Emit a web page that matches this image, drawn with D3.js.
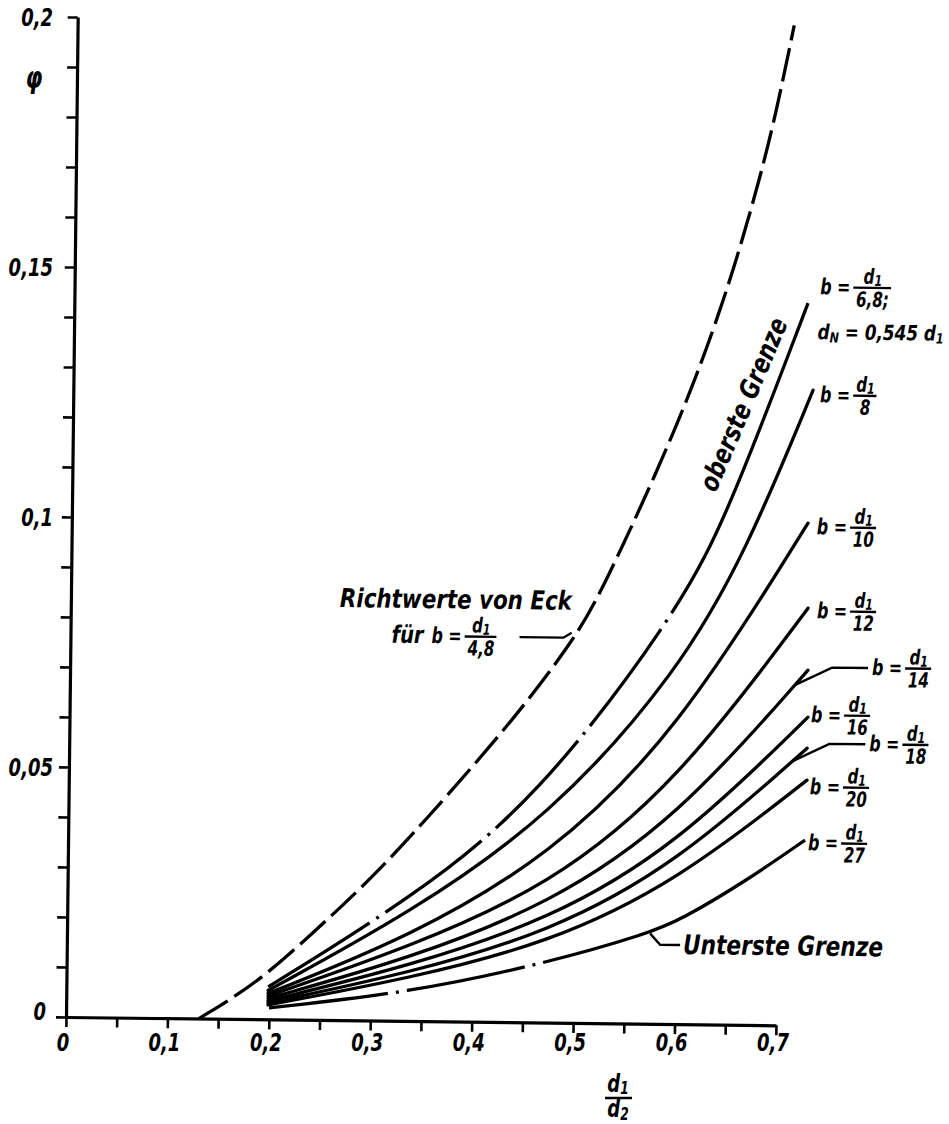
<!DOCTYPE html>
<html>
<head>
<meta charset="utf-8">
<script src="https://cdn.jsdelivr.net/npm/d3@7"></script>
<style>
  body { margin: 0; background: #fff; }
  svg text { font-family: "DejaVu Sans Condensed", "DejaVu Sans", sans-serif; font-style: italic; font-weight: bold; fill: #000; }
</style>
</head>
<body>
<div id="chart"></div>
<script>
// Achsen
const xTicks = [0, 0.05, 0.1, 0.15, 0.2, 0.25, 0.3, 0.35, 0.4, 0.45, 0.5, 0.55, 0.6, 0.65, 0.7];
const xLabelValues = [0, 0.1, 0.2, 0.3, 0.4, 0.5, 0.6, 0.7];
const xTickLabels = ["0", "0,1", "0,2", "0,3", "0,4", "0,5", "0,6", "0,7"];
const yTicks = [0, 0.01, 0.02, 0.03, 0.04, 0.05, 0.06, 0.07, 0.08, 0.09, 0.1,
                0.11, 0.12, 0.13, 0.14, 0.15, 0.16, 0.17, 0.18, 0.19, 0.2];
const yLabelValues = [0, 0.05, 0.1, 0.15, 0.2];
const yTickLabels = ["0", "0,05", "0,1", "0,15", "0,2"];

// Kurven: x = d1/d2, y = phi
const eckX = [0.131, 0.188, 0.2425, 0.295, 0.350, 0.440, 0.4956, 0.5216, 0.598, 0.6414, 0.667, 0.687, 0.7065];
const eckY = [0, 0.0072, 0.0174, 0.0275, 0.0396, 0.061, 0.0765, 0.0855, 0.1202, 0.1453, 0.1636, 0.1797, 0.2];

const b68X = [0.199, 0.338, 0.462, 0.600, 0.647, 0.7233];
const b68Y = [0.0065, 0.0244, 0.0445, 0.083, 0.1023, 0.1445];
const b8X = [0.199, 0.338, 0.475, 0.600, 0.666, 0.7293];
const b8Y = [0.0058, 0.0216, 0.0411, 0.0705, 0.095, 0.1271];
const b10X = [0.199, 0.338, 0.475, 0.600, 0.7258];
const b10Y = [0.0052, 0.0168, 0.0332, 0.0585, 0.1005];
const b12X = [0.199, 0.338, 0.475, 0.600, 0.7268];
const b12Y = [0.0047, 0.0148, 0.0273, 0.0482, 0.0835];
const b14X = [0.199, 0.338, 0.475, 0.600, 0.7275];
const b14Y = [0.0042, 0.0125, 0.0236, 0.041, 0.0711];
const b16X = [0.199, 0.338, 0.475, 0.600, 0.728];
const b16Y = [0.0037, 0.011, 0.0205, 0.0357, 0.0617];
const b18X = [0.199, 0.338, 0.475, 0.600, 0.7275];
const b18Y = [0.0033, 0.0096, 0.018, 0.032, 0.0555];
const b20X = [0.199, 0.338, 0.475, 0.600, 0.7278];
const b20Y = [0.0029, 0.0085, 0.0159, 0.0284, 0.0491];
const b27X = [0.200, 0.336, 0.4736, 0.5748, 0.604, 0.666, 0.7265];
const b27Y = [0.0023, 0.0056, 0.0119, 0.0182, 0.0208, 0.0284, 0.0371];

const W = 949, H = 1124;
const margin = { left: 66, top: 17 };
const plotW = 710, plotH = 1000;
const SX = 0.8; // schmale Normschrift

const x = d3.scaleLinear().domain([0, 0.7]).range([0, plotW]);
const y = d3.scaleLinear().domain([0, 0.2]).range([plotH, 0]);

const svg = d3.select("#chart").append("svg")
    .attr("width", W)
    .attr("height", H);

// die Vorlage ist leicht schief eingescannt
const g = svg.append("g")
    .attr("transform", `translate(${margin.left},${margin.top}) rotate(0.67,0,${plotH})`);

// schmale Schrift
function lt(parent, px, py, str, size, anchor) {
    const t = parent.append("text")
        .attr("transform", `translate(${px},${py}) scale(${SX},1)`)
        .attr("text-anchor", anchor || "start")
        .style("font-size", size + "px");
    if (str !== null) t.text(str);
    return t;
}
function tw(t) { return t.node().getComputedTextLength() * SX; }

// Achsen
const xAxis = g.append("g")
    .attr("transform", `translate(0,${plotH})`)
    .call(d3.axisBottom(x).tickValues(xTicks).tickSize(10).tickSizeOuter(0).tickFormat(""));
const yAxis = g.append("g")
    .call(d3.axisLeft(y).tickValues(yTicks).tickSize(10).tickSizeOuter(0).tickFormat(""));
[xAxis, yAxis].forEach(a => {
    a.select(".domain").attr("stroke", "#000").attr("stroke-width", 3.2);
    a.selectAll(".tick line").attr("stroke", "#000").attr("stroke-width", 2.6);
});

// Achsenbeschriftung (ungedreht)
const axLab = svg.append("g");
xLabelValues.forEach((d, i) => {
    lt(axLab, margin.left + x(d) - 3, margin.top + plotH + 34, xTickLabels[i], 25, "middle");
});
yLabelValues.forEach((d, i) => {
    lt(axLab, d === 0 ? 46 : 53, margin.top + y(d) + (d === 0 ? 3 : 9), yTickLabels[i], 25, "end");
});
lt(axLab, 34, 88, "φ", 30, "middle");

// x-Titel d1/d2
{
    const n = lt(axLab, 618, 1092, null, 25, "middle");
    n.append("tspan").text("d");
    n.append("tspan").attr("dy", 2).style("font-size", "17px").text("1");
    axLab.append("line").attr("x1", 605).attr("x2", 632).attr("y1", 1098).attr("y2", 1098)
        .attr("stroke", "#000").attr("stroke-width", 2.5);
    const d = lt(axLab, 618, 1117, null, 25, "middle");
    d.append("tspan").text("d");
    d.append("tspan").attr("dy", 3).style("font-size", "17px").text("2");
}

// Kurven
const line = d3.line()
    .x(d => x(d[0]))
    .y(d => y(d[1]))
    .curve(d3.curveBasis);

const series = [
    { key: "4,8", xs: eckX, ys: eckY, style: "eck" },
    { key: "6,8", xs: b68X, ys: b68Y, style: "dashdot", tail: 225 },
    { key: "8", xs: b8X, ys: b8Y },
    { key: "10", xs: b10X, ys: b10Y },
    { key: "12", xs: b12X, ys: b12Y },
    { key: "14", xs: b14X, ys: b14Y },
    { key: "16", xs: b16X, ys: b16Y },
    { key: "18", xs: b18X, ys: b18Y },
    { key: "20", xs: b20X, ys: b20Y },
    { key: "27", xs: b27X, ys: b27Y, style: "dashdot", tail: 165 }
];

const paths = {};
series.forEach(s => {
    const pts = s.xs.map((v, i) => [v, s.ys[i]]);
    const p = g.append("path")
        .datum(pts)
        .attr("fill", "none")
        .attr("stroke", "#000")
        .attr("stroke-width", 3.3)
        .attr("stroke-linecap", "round")
        .attr("d", line);
    const L = p.node().getTotalLength();
    if (s.style === "eck") {
        p.attr("stroke-dasharray", "34,8").attr("stroke-linecap", "butt");
    } else if (s.style === "dashdot") {
        const unit = [120, 8, 3, 8];
        const arr = [];
        let used = 0;
        while (used + 139 <= L - s.tail) { arr.push(...unit); used += 139; }
        arr.push(L, 0);
        p.attr("stroke-dasharray", arr.join(",")).attr("stroke-linecap", "butt");
    }
    paths[s.key] = p.node();
});

// Punkt auf Kurve bei gegebenem x (Pixel)
function pointAtX(node, px) {
    let lo = 0, hi = node.getTotalLength();
    for (let i = 0; i < 40; i++) {
        const mid = (lo + hi) / 2;
        if (node.getPointAtLength(mid).x < px) lo = mid; else hi = mid;
    }
    return node.getPointAtLength(lo);
}
function endPoint(node) {
    return node.getPointAtLength(node.getTotalLength());
}

// Bruch-Beschriftung "b = d1/n"
function fracLabel(parent, bx, barY, denom) {
    const gl = parent.append("g");
    const b = lt(gl, bx, barY + 7, "b =", 22);
    const fx = bx + tw(b) + 4;
    const num = lt(gl, 0, 0, null, 21);
    num.append("tspan").text("d");
    num.append("tspan").attr("dy", 2).style("font-size", "15px").text("1");
    const den = lt(gl, 0, 0, denom, 21);
    const nw = tw(num), dw = tw(den);
    const w = Math.max(nw, dw) + 4;
    num.attr("transform", `translate(${fx + (w - nw) / 2},${barY - 4}) scale(${SX},1)`);
    den.attr("transform", `translate(${fx + (w - dw) / 2},${barY + 19}) scale(${SX},1)`);
    gl.append("line").attr("x1", fx - 1).attr("x2", fx + w).attr("y1", barY).attr("y2", barY)
        .attr("stroke", "#000").attr("stroke-width", 2.4);
    return gl;
}

const labels = g.append("g");
// Versatz der Beschriftung gegen das Kurvenende (Pixel)
const labelOffset = {
    "6,8": [12, -16], "8": [7, 5], "10": [9, 4], "12": [9, 3],
    "16": [3, -2], "20": [3, 7], "27": [3, 3]
};
Object.keys(labelOffset).forEach(k => {
    const e = endPoint(paths[k]);
    fracLabel(labels, e.x + labelOffset[k][0], e.y + labelOffset[k][1], k === "6,8" ? "6,8;" : k);
});

// zweite Zeile bei 6,8
{
    const e = endPoint(paths["6,8"]);
    const t = labels.append("text")
        .attr("x", e.x + 10).attr("y", e.y + 36)
        .attr("textLength", 126).attr("lengthAdjust", "spacingAndGlyphs")
        .style("font-size", "21px");
    t.append("tspan").text("d");
    t.append("tspan").attr("dy", 3).style("font-size", "14px").text("N");
    t.append("tspan").attr("dy", -3).text(" = 0,545 d");
    t.append("tspan").attr("dy", 3).style("font-size", "14px").text("1");
}

// Hinweislinien fuer 14 und 18
["14", "18"].forEach(k => {
    const node = paths[k];
    const a = node.getPointAtLength(node.getTotalLength() - 20);
    const ex = a.x + 37, ey = a.y - 18;
    labels.append("polyline")
        .attr("points", `${a.x},${a.y} ${ex},${ey} ${ex + 36},${ey}`)
        .attr("fill", "none").attr("stroke", "#000").attr("stroke-width", 2.4);
    fracLabel(labels, ex + 40, ey, k);
});

// unterste Grenze
{
    const pt = pointAtX(paths["27"], x(0.575));
    labels.append("polyline")
        .attr("points", `${pt.x},${pt.y + 2} ${pt.x + 10},${pt.y + 13} ${pt.x + 30},${pt.y + 13}`)
        .attr("fill", "none").attr("stroke", "#000").attr("stroke-width", 2.4);
    labels.append("text").attr("x", pt.x + 33).attr("y", pt.y + 22)
        .attr("textLength", 200).attr("lengthAdjust", "spacingAndGlyphs")
        .style("font-size", "27px").text("Unterste Grenze");
}
// oberste Grenze, entlang der Kurve
svg.append("text")
    .attr("transform", "translate(752,408) rotate(-67)")
    .attr("text-anchor", "middle")
    .attr("textLength", 185).attr("lengthAdjust", "spacingAndGlyphs")
    .style("font-size", "27px")
    .text("oberste Grenze");

// Richtwerte von Eck
{
    const pt = pointAtX(paths["4,8"], x(0.494));
    labels.append("polyline")
        .attr("points", `${pt.x - 52},${pt.y - 3} ${pt.x - 8},${pt.y - 3} ${pt.x},${pt.y - 8}`)
        .attr("fill", "none").attr("stroke", "#000").attr("stroke-width", 2.4);
    labels.append("text").attr("x", pt.x - 232).attr("y", pt.y - 31)
        .attr("textLength", 232).attr("lengthAdjust", "spacingAndGlyphs")
        .style("font-size", "26px").text("Richtwerte von Eck");
    labels.append("text").attr("x", pt.x - 180).attr("y", pt.y + 4)
        .attr("textLength", 32).attr("lengthAdjust", "spacingAndGlyphs")
        .style("font-size", "24px").text("für");
    fracLabel(labels, pt.x - 140, pt.y - 3, "4,8");
}
</script>
</body>
</html>
